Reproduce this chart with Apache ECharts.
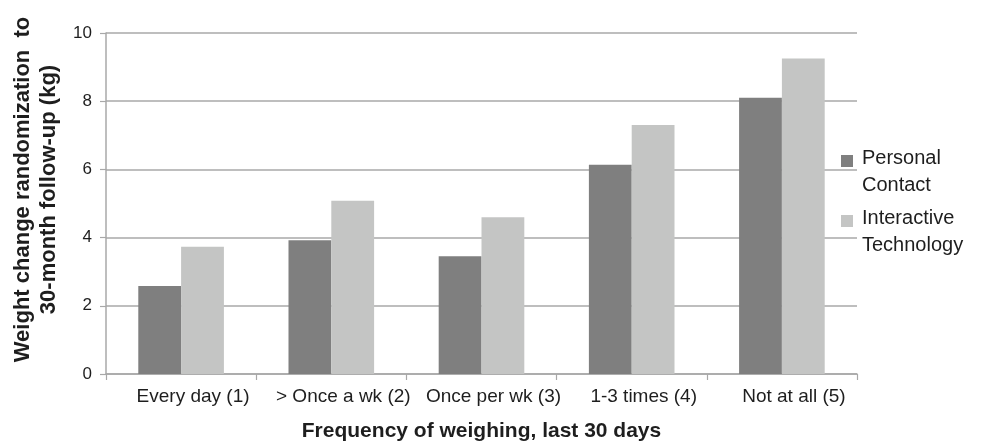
<!DOCTYPE html>
<html><head><meta charset="utf-8">
<script src="https://cdn.jsdelivr.net/npm/echarts@6/dist/echarts.min.js"></script>
<style>html,body{margin:0;padding:0;background:#fff}#c{width:984px;height:442px}</style>
</head><body><div id="c"></div>
<script>
const categories = ["Every day (1)", "> Once a wk (2)", "Once per wk (3)", "1-3 times (4)", "Not at all (5)"];
const personalContact = [2.58, 3.92, 3.45, 6.14, 8.10];
const interactiveTech = [3.73, 5.08, 4.60, 7.30, 9.25];
const seriesNames = ["Personal Contact", "Interactive Technology"];
const seriesColors = ["#7f7f7f", "#c4c5c4"];
const yTicks = {min: 0, max: 10, interval: 2};

const chart = echarts.init(document.getElementById('c'));
const font = 'Liberation Sans, Arial, sans-serif';
const legendTop = [155, 215];
chart.setOption({
  animation: false,
  textStyle: {fontFamily: font},
  grid: {left: 106, right: 127, top: 33, bottom: 68, containLabel: false, outerBoundsMode: 'none'},
  graphic: seriesNames.flatMap((n, i) => [
    {type: 'rect', left: 841, top: legendTop[i], shape: {width: 12, height: 12}, style: {fill: seriesColors[i]}, z: 10},
    {type: 'text', left: 862, top: legendTop[i] - 10, z: 10,
     style: {text: n.replace(' ', '\n'), fill: '#1e1e1e', font: '20px ' + font, lineHeight: 27}}
  ]),
  xAxis: {
    type: 'category', data: categories,
    name: 'Frequency of weighing, last 30 days', nameLocation: 'middle', nameGap: 47,
    nameTextStyle: {fontSize: 21, fontWeight: 'bold', color: '#1e1e1e', fontFamily: font},
    axisLine: {lineStyle: {color: '#a8a8a8', width: 1.5}},
    axisTick: {show: true, length: 6, lineStyle: {color: '#a8a8a8', width: 1.2}},
    axisLabel: {fontSize: 19, color: '#1e1e1e', margin: 13, interval: 0, fontFamily: font, padding: [0, 0, 0, 24]}
  },
  yAxis: {
    type: 'value', min: yTicks.min, max: yTicks.max, interval: yTicks.interval,
    name: 'Weight change randomization  to\n30-month follow-up (kg)', nameLocation: 'middle', nameRotate: 90, nameGap: 38,
    nameTextStyle: {fontSize: 22, fontWeight: 'bold', color: '#1e1e1e', fontFamily: font, lineHeight: 26, padding: [0, 0, 0, 28]},
    axisLine: {show: true, lineStyle: {color: '#a8a8a8', width: 1.5}},
    axisTick: {show: true, length: 6, lineStyle: {color: '#a8a8a8', width: 1.2}},
    axisLabel: {fontSize: 17, color: '#1e1e1e', margin: 14, fontFamily: font},
    splitLine: {lineStyle: {color: '#a8a8a8', width: 1.5}}
  },
  series: [
    {name: seriesNames[0], type: 'bar', data: personalContact, barGap: '0%', barCategoryGap: '43%',
     itemStyle: {color: seriesColors[0]}},
    {name: seriesNames[1], type: 'bar', data: interactiveTech,
     itemStyle: {color: seriesColors[1]}}
  ]
});
</script></body></html>
